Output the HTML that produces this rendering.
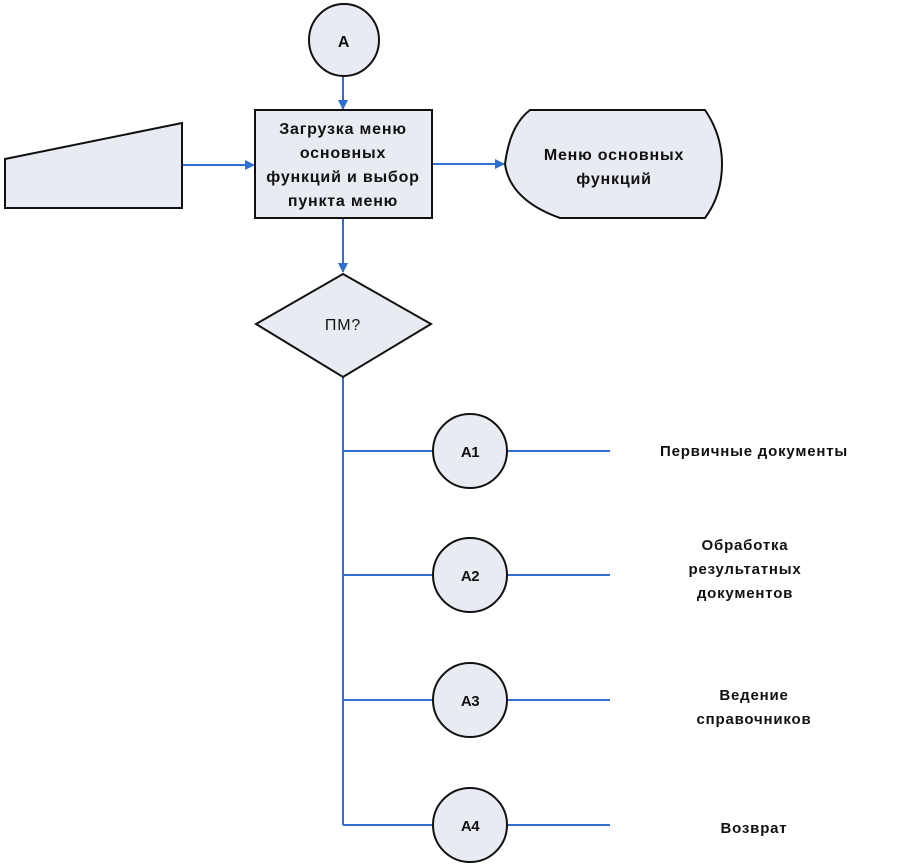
<!DOCTYPE html>
<html><head><meta charset="utf-8"><style>
html,body{margin:0;padding:0;background:#fff;}
svg{display:block;}
text{font-family:"Liberation Sans","DejaVu Sans",sans-serif;fill:#111;}
</style></head><body>
<svg width="900" height="864" viewBox="0 0 900 864" xmlns="http://www.w3.org/2000/svg">
<defs>
<marker id="ar" markerWidth="10" markerHeight="10" refX="9" refY="5" orient="auto" markerUnits="userSpaceOnUse">
<path d="M0,0 L10,5 L0,10 z" fill="#2f6fd0"/></marker>
</defs>
<g stroke="#2f6fd0" stroke-width="2" fill="none">
<line x1="343" y1="76" x2="343" y2="109" marker-end="url(#ar)"/>
<line x1="182" y1="165" x2="254" y2="165" marker-end="url(#ar)"/>
<line x1="432" y1="164" x2="504" y2="164" marker-end="url(#ar)"/>
<line x1="343" y1="218" x2="343" y2="272" marker-end="url(#ar)"/>
<line x1="343" y1="377" x2="343" y2="825"/>
<line x1="343" y1="451" x2="610" y2="451"/>
<line x1="343" y1="575" x2="610" y2="575"/>
<line x1="343" y1="700" x2="610" y2="700"/>
<line x1="343" y1="825" x2="610" y2="825"/>
</g>
<g stroke="#111" stroke-width="2" fill="#e8ebf2">
<ellipse cx="344" cy="40" rx="35" ry="36"/>
<rect x="255" y="110" width="177" height="108"/>
<polygon points="5,159 182,123 182,208 5,208"/>
<path d="M530,110 L705,110 Q722,135 722,164 Q722,195 705,218 L560,218 Q510,200 505,164 Q510,125 530,110 z"/>
<polygon points="343,274 431,324 343,377 256,324"/>
<circle cx="470" cy="451" r="37"/>
<circle cx="470" cy="575" r="37"/>
<circle cx="470" cy="700" r="37"/>
<circle cx="470" cy="825" r="37"/>
</g>
<g font-size="15" text-anchor="middle" letter-spacing="0.8">
<text x="344" y="47" font-size="16" font-weight="bold">A</text>
<g font-weight="bold" font-size="16">
<text x="343" y="134">Загрузка меню</text>
<text x="343" y="158">основных</text>
<text x="343" y="182">функций и выбор</text>
<text x="343" y="206">пункта меню</text>
<text x="614" y="160">Меню основных</text>
<text x="614" y="184">функций</text>
</g>
<text x="343" y="330" font-size="16">ПМ?</text>
<g font-weight="bold" letter-spacing="-0.5">
<text x="470" y="457">A1</text>
<text x="470" y="581">A2</text>
<text x="470" y="706">A3</text>
<text x="470" y="831">A4</text>
</g>
<g font-weight="600">
<text x="754" y="456">Первичные документы</text>
<text x="745" y="550">Обработка</text>
<text x="745" y="574">результатных</text>
<text x="745" y="598">документов</text>
<text x="754" y="700">Ведение</text>
<text x="754" y="724">справочников</text>
<text x="754" y="833">Возврат</text>
</g>
</g>
</svg>
</body></html>
